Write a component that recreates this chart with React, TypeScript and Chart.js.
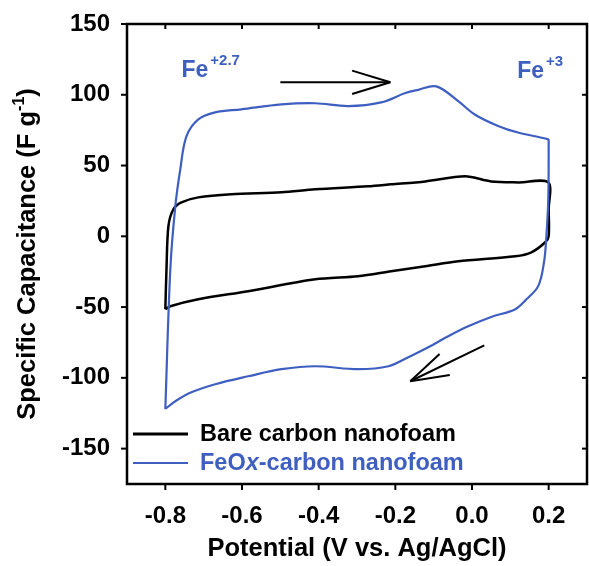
import React, { useEffect, useRef } from "react";
import { Chart, registerables } from "chart.js";

Chart.register(...registerables);

const FONT = "'Liberation Sans', Arial, sans-serif";
const BLUE = "#3f5fc0";

// Tick values
const xTicks = [-0.8, -0.6, -0.4, -0.2, 0.0, 0.2];
const yTicks = [-150, -100, -50, 0, 50, 100, 150];

// Bare carbon nanofoam CV loop (potential V, capacitance F/g)
const bareV = [-0.8, -0.797, -0.792, -0.779, -0.758, -0.714, -0.628, -0.497, -0.409, -0.271, -0.211, -0.122, -0.018, 0.05, 0.121, 0.199, 0.2, 0.2, 0.191, 0.155, 0.113, -0.036, -0.122, -0.211, -0.297, -0.409, -0.584, -0.714, -0.787, -0.8];
const bareF = [-51.5, -23.3, 7.1, 19.1, 24.0, 27.5, 29.7, 31.1, 33.2, 35.3, 36.7, 38.8, 42.4, 38.8, 38.1, 38.1, 19, 0, -4.2, -11.3, -14.1, -17.7, -21.2, -24.7, -28.2, -30.4, -38.8, -44.5, -49.4, -51.5];

// FeOx-carbon nanofoam CV loop
const feoxV = [-0.8, -0.787, -0.774, -0.761, -0.745, -0.714, -0.67, -0.602, -0.497, -0.409, -0.323, -0.237, -0.174, -0.14, -0.093, -0.036, 0.007, 0.068, 0.12, 0.199, 0.2, 0.199, 0.194, 0.188, 0.173, 0.142, 0.113, 0.05, -0.01, -0.062, -0.114, -0.166, -0.218, -0.297, -0.409, -0.497, -0.584, -0.67, -0.732, -0.774, -0.8];
const feoxF = [-122, -23.3, 21.2, 47.3, 70.6, 82.6, 87.6, 89.7, 93.2, 94.0, 92.0, 94.6, 101.2, 103.5, 105.9, 95.5, 86.1, 78.0, 73.3, 68.5, 67, 26, 0, -18, -35, -44.5, -51.5, -57, -63.6, -70.6, -78.4, -85.4, -91.8, -93.9, -91.8, -93.9, -98.9, -104.5, -110.2, -116.5, -122];

const seriesLabels = ["Bare carbon nanofoam", "FeOx-carbon nanofoam"];

const toPts = (xs: number[], ys: number[]) => xs.map((v, i) => ({ x: v, y: ys[i] }));

const decorPlugin = {
  id: "decor",
  afterDatasetsDraw(chart: any) {
    const { ctx, chartArea: a, scales } = chart;
    const x = scales.x;
    const y = scales.y;
    ctx.save();
    const line = (x1: number, y1: number, x2: number, y2: number) => {
      ctx.beginPath();
      ctx.moveTo(x1, y1);
      ctx.lineTo(x2, y2);
      ctx.stroke();
    };
    // frame
    ctx.strokeStyle = "#000";
    ctx.lineWidth = 2.5;
    ctx.strokeRect(a.left, a.top, a.right - a.left, a.bottom - a.top);
    // ticks
    ctx.lineWidth = 2;
    for (const v of xTicks) {
      const px = x.getPixelForValue(v);
      line(px, a.bottom, px, a.bottom + 6);
      line(px, a.top, px, a.top + 5);
    }
    for (const v of yTicks) {
      const py = y.getPixelForValue(v);
      line(a.left - 6, py, a.left, py);
      line(a.right - 5, py, a.right, py);
    }

    // arrows
    const arrow = (v1: number, f1: number, v2: number, f2: number) => {
      const x1 = x.getPixelForValue(v1), y1 = y.getPixelForValue(f1);
      const x2 = x.getPixelForValue(v2), y2 = y.getPixelForValue(f2);
      ctx.lineWidth = 2;
      ctx.strokeStyle = "#000";
      line(x1, y1, x2, y2);
      const ang = Math.atan2(y1 - y2, x1 - x2);
      const L = 40, d = (17 * Math.PI) / 180;
      line(x2, y2, x2 + L * Math.cos(ang + d), y2 + L * Math.sin(ang + d));
      line(x2, y2, x2 + L * Math.cos(ang - d), y2 + L * Math.sin(ang - d));
    };
    arrow(-0.5, 108.8, -0.213, 108.8);
    arrow(0.032, -77.0, -0.161, -102.4);

    // Fe labels
    const feLabel = (v: number, f: number, sup: string) => {
      const px = x.getPixelForValue(v), py = y.getPixelForValue(f);
      ctx.fillStyle = BLUE;
      ctx.textAlign = "left";
      ctx.textBaseline = "alphabetic";
      ctx.font = `bold 23px ${FONT}`;
      ctx.fillText("Fe", px, py);
      const w = ctx.measureText("Fe").width;
      ctx.font = `bold 15px ${FONT}`;
      ctx.fillText(sup, px + w + 2, py - 12);
    };
    feLabel(-0.758, 112.3, "+2.7");
    feLabel(0.118, 111.6, "+3");

    // legend
    const ly1 = a.bottom - 50, ly2 = a.bottom - 21;
    ctx.strokeStyle = "#000";
    ctx.lineWidth = 3;
    line(a.left + 6, ly1, a.left + 61, ly1);
    ctx.strokeStyle = BLUE;
    ctx.lineWidth = 2;
    line(a.left + 6, ly2, a.left + 61, ly2);
    ctx.textBaseline = "middle";
    ctx.textAlign = "left";
    ctx.font = `bold 23.5px ${FONT}`;
    ctx.fillStyle = "#000";
    ctx.fillText(seriesLabels[0], a.left + 73, ly1 + 1);
    ctx.fillStyle = BLUE;
    let tx = a.left + 73;
    const parts: [string, string][] = [["FeO", "bold"], ["x", "italic bold"], ["-carbon nanofoam", "bold"]];
    for (const [t, st] of parts) {
      ctx.font = `${st} 23.5px ${FONT}`;
      ctx.fillText(t, tx, ly2 + 1);
      tx += ctx.measureText(t).width;
    }

    // y axis title
    ctx.save();
    ctx.translate(35, (a.top + a.bottom) / 2);
    ctx.rotate(-Math.PI / 2);
    ctx.fillStyle = "#000";
    ctx.textBaseline = "alphabetic";
    ctx.textAlign = "left";
    const main = "Specific Capacitance (F g";
    ctx.font = `bold 25.5px ${FONT}`;
    const w1 = ctx.measureText(main).width;
    const w3 = ctx.measureText(")").width;
    ctx.font = `bold 16px ${FONT}`;
    const w2 = ctx.measureText("-1").width;
    const total = w1 + w2 + w3;
    let sx = -total / 2;
    ctx.font = `bold 25.5px ${FONT}`;
    ctx.fillText(main, sx, 0);
    sx += w1;
    ctx.font = `bold 16px ${FONT}`;
    ctx.fillText("-1", sx, -11);
    sx += w2;
    ctx.font = `bold 25.5px ${FONT}`;
    ctx.fillText(")", sx, 0);
    ctx.restore();

    ctx.restore();
  },
};

export default function App() {
  const ref = useRef<HTMLCanvasElement | null>(null);
  useEffect(() => {
    document.body.style.margin = "0";
    if (!ref.current) return;
    Chart.defaults.font.family = FONT;
    const chart = new Chart(ref.current, {
      type: "scatter",
      data: {
        datasets: [
          {
            label: seriesLabels[0],
            data: toPts(bareV, bareF),
            showLine: true,
            borderColor: "#000",
            borderWidth: 2.5,
            pointRadius: 0,
            tension: 0.3,
            order: 1,
          },
          {
            label: seriesLabels[1],
            data: toPts(feoxV, feoxF),
            showLine: true,
            borderColor: BLUE,
            borderWidth: 2.2,
            pointRadius: 0,
            tension: 0.35,
            order: 0,
          },
        ],
      },
      options: {
        responsive: false,
        animation: false,
        devicePixelRatio: 1,
        layout: { padding: { left: 0, right: 2, top: 24, bottom: 0 } },
        plugins: { legend: { display: false }, tooltip: { enabled: false } },
        scales: {
          x: {
            type: "linear",
            min: -0.9,
            max: 0.3,
            grid: { display: false, drawTicks: false },
            border: { display: false },
            afterBuildTicks: (s: any) => {
              s.ticks = xTicks.map((v) => ({ value: v }));
            },
            afterFit: (s: any) => {
              s.height = 82;
              s.paddingLeft = 0;
              s.paddingRight = 0;
            },
            ticks: {
              color: "#000",
              font: { family: FONT, size: 24, weight: "bold" },
              padding: 18,
              maxRotation: 0,
              callback: (v: any) => Number(v).toFixed(1),
            },
            title: {
              display: true,
              text: "Potential (V vs. Ag/AgCl)",
              color: "#000",
              font: { family: FONT, size: 25.5, weight: "bold" },
              padding: { top: 0, bottom: 2 },
            },
          },
          y: {
            type: "linear",
            min: -175,
            max: 150,
            grid: { display: false, drawTicks: false },
            border: { display: false },
            afterBuildTicks: (s: any) => {
              s.ticks = yTicks.map((v) => ({ value: v }));
            },
            afterFit: (s: any) => {
              s.width = 127;
              s.paddingTop = 0;
              s.paddingBottom = 0;
            },
            ticks: {
              color: "#000",
              font: { family: FONT, size: 24, weight: "bold" },
              padding: 17,
              callback: (v: any) => String(v),
            },
          },
        },
      } as any,
      plugins: [decorPlugin],
    });
    return () => chart.destroy();
  }, []);
  return (
    <div style={{ position: "fixed", left: 0, top: 0, width: 589, height: 566, background: "#fff" }}>
      <canvas ref={ref} width={589} height={566} />
    </div>
  );
}
